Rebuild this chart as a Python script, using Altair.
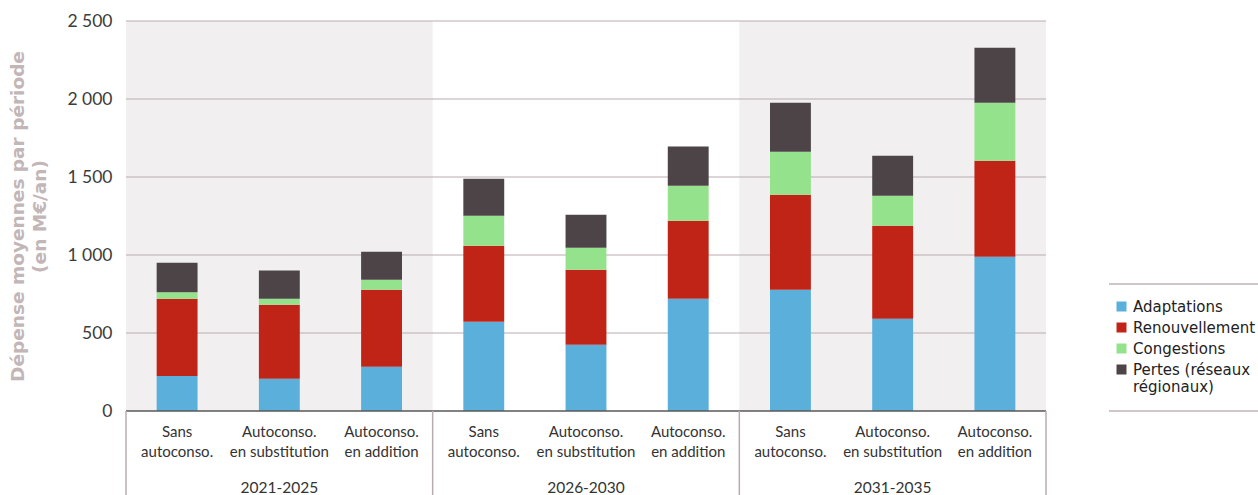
import altair as alt
import pandas as pd

periods = ["2021-2025", "2026-2030", "2031-2035"]
scenarios = ["Sans\nautoconso.", "Autoconso.\nen substitution", "Autoconso.\nen addition"]
series = ["Adaptations", "Renouvellement", "Congestions", "Pertes (réseaux régionaux)"]
colors = ["#5aafdb", "#c02416", "#94e38c", "#4c4447"]

# values per bar (period-major, scenario-minor)
adaptations    = [225, 207, 284, 572, 425, 720, 778, 592, 989]
renouvellement = [495, 474, 493, 488, 481, 500, 609, 596, 615]
congestions    = [42, 39, 64, 192, 141, 224, 275, 192, 372]
pertes         = [188, 180, 180, 237, 211, 251, 314, 257, 353]

y_ticks = [0, 500, 1000, 1500, 2000, 2500]

W, H = 920, 390
rows = []
vals = [adaptations, renouvellement, congestions, pertes]
for i in range(9):
    for k, s in enumerate(series):
        rows.append({"pos": i + 0.5, "x0": i + 0.3, "x1": i + 0.7, "serie": s, "ord": k, "value": vals[k][i]})
df = pd.DataFrame(rows)

cats = pd.DataFrame({"pos": [i + 0.5 for i in range(9)], "label": [scenarios[i % 3] for i in range(9)]})
groups = pd.DataFrame({"pos": [1.5, 4.5, 7.5], "label": periods})
bands = pd.DataFrame({"a": [0, 6], "b": [3, 9]})
seps = pd.DataFrame({"x": [0, 3, 6, 9]})
grid = pd.DataFrame({"y": y_ticks[1:]})

xs = alt.Scale(domain=[0, 9], nice=False, zero=False)
ys = alt.Scale(domain=[0, 2500], nice=False)

yaxis = alt.Axis(
    values=y_ticks, grid=False, ticks=False, domain=False,
    labelFont="Lato", labelFontSize=17.5, labelColor="#3c3c3c", labelPadding=14,
    labelExpr="replace(format(datum.value, ','), ',', ' ')",
    title=["Dépense moyennes par période", "(en M€/an)"],
    titleFont="DejaVu Sans", titleFontSize=18.5, titleFontWeight="bold",
    titleColor="#c2b6b7", titlePadding=17, titleLineHeight=22)

bg = alt.Chart(bands).mark_rect(color="#f1eff0").encode(
    x=alt.X("a:Q", scale=xs, axis=None), x2="b:Q",
    y=alt.value(0), y2=alt.value(H))

gridl = alt.Chart(grid).mark_rule(color="#b9acb0", strokeWidth=1).encode(
    y=alt.Y("y:Q", scale=ys, axis=yaxis), x=alt.value(0), x2=alt.value(W))

bars = alt.Chart(df).transform_stack(
    stack="value", as_=["y0", "y1"], groupby=["pos"], sort=[alt.SortField("ord", order="ascending")]
).mark_bar().encode(
    x=alt.X("x0:Q", scale=xs, axis=None), x2="x1:Q",
    y=alt.Y("y0:Q", scale=ys, axis=yaxis),
    y2="y1:Q",
    color=alt.Color("serie:N", scale=alt.Scale(domain=series, range=colors),
                    legend=alt.Legend(orient="none", legendX=988, legendY=278, title=None,
                                      symbolType="square", symbolSize=100, symbolStrokeWidth=0,
                                      labelFont="DejaVu Sans", labelFontSize=15, labelColor="#222222",
                                      labelLimit=300, rowPadding=5,
                                      labelExpr="datum.label == 'Pertes (réseaux régionaux)' ? ['Pertes (réseaux', 'régionaux)'] : datum.label")),
)

baseline = alt.Chart(pd.DataFrame({"y": [0]})).mark_rule(color="#595959", strokeWidth=1.5).encode(
    y=alt.Y("y:Q", scale=ys, axis=yaxis), x=alt.value(0), x2=alt.value(W))

sepl = alt.Chart(seps).mark_rule(color="#b9acb0", strokeWidth=1.5).encode(
    x=alt.X("x:Q", scale=xs, axis=None), y=alt.value(H), y2=alt.value(H + 84))

cat_text = alt.Chart(cats).mark_text(lineBreak="\n", baseline="top", font="Lato", fontSize=15,
                                     color="#333333", lineHeight=20).encode(
    x=alt.X("pos:Q", scale=xs, axis=None), y=alt.value(H + 14), text="label:N")

grp_text = alt.Chart(groups).mark_text(baseline="middle", font="Lato", fontSize=15.5, color="#333333").encode(
    x=alt.X("pos:Q", scale=xs, axis=None), y=alt.value(H + 77), text="label:N")

leg_lines = alt.Chart(pd.DataFrame({"y": [263, 390]})).mark_rule(color="#c0b3b6", strokeWidth=1.5).encode(
    y=alt.Y("y:Q", scale=None, axis=None), x=alt.value(983), x2=alt.value(1132))

chart = alt.layer(bg, gridl, bars, baseline, sepl, cat_text, grp_text, leg_lines).properties(
    width=W, height=H,
    autosize=alt.AutoSizeParams(type="none"),
    padding={"left": 126, "top": 21, "right": 212, "bottom": 84},
).resolve_axis(y="shared").configure_view(stroke=None)

chart.save("out.html", embed_options={"renderer": "svg", "actions": False})
